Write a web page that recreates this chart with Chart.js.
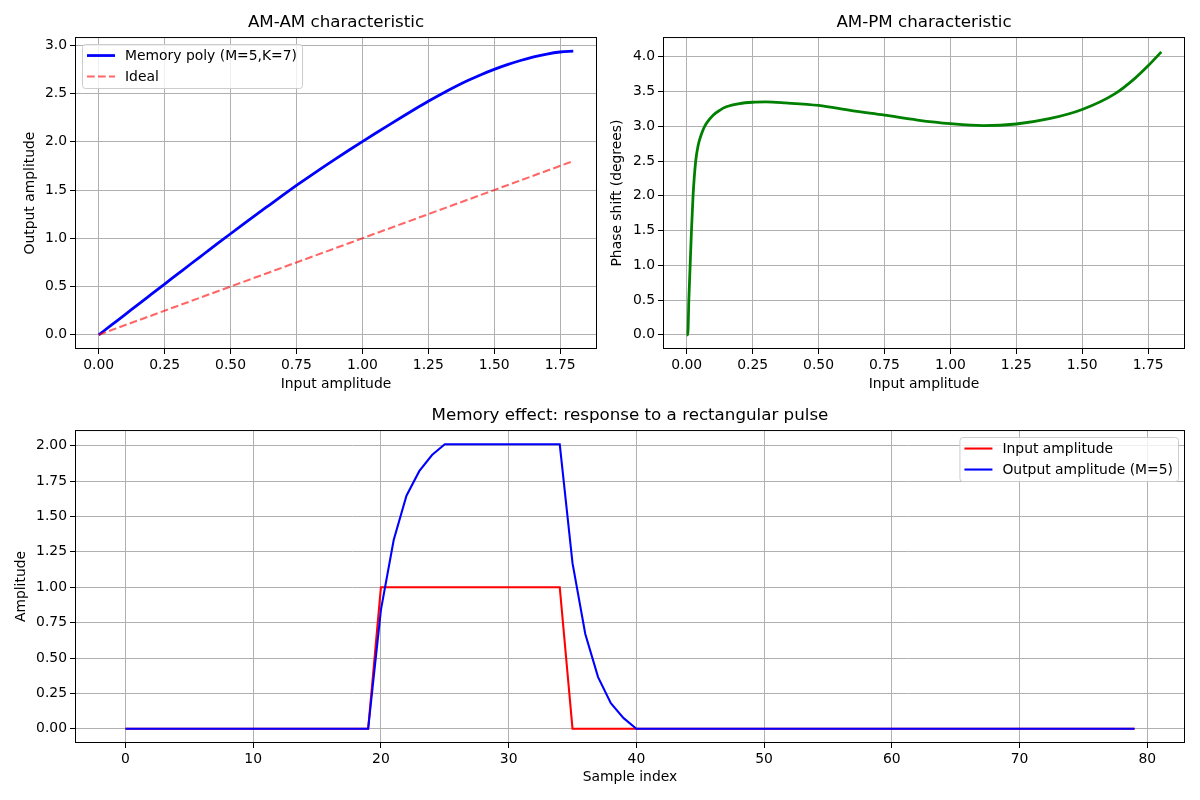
<!DOCTYPE html>
<html>
<head>
    <meta charset="utf-8">
    <title>memory polynomial PA</title>
    <style>
        body { margin: 0; background: #fff; font-family: "DejaVu Sans"; }
        #wrap { position: relative; width: 1200px; height: 800px; }
        canvas { position: absolute; }
    </style>
</head>
<body>
<div id="wrap">
    <canvas id="c_amam" width="600" height="400" style="left:0;top:0"></canvas>
    <canvas id="c_ampm" width="600" height="400" style="left:600px;top:0"></canvas>
    <canvas id="c_pulse" width="1200" height="400" style="left:0;top:400px"></canvas>
</div>

<script src="https://cdn.jsdelivr.net/npm/chart.js@4.4.1/dist/chart.umd.min.js"></script>
<script>
    // AM-AM: input amplitude vs output amplitude
    const am_in = [0, 0.05, 0.1, 0.15, 0.2, 0.25, 0.3, 0.35, 0.4, 0.45, 0.5, 0.55, 0.6, 0.65, 0.7, 0.75,
        0.8, 0.85, 0.9, 0.95, 1.0, 1.05, 1.1, 1.15, 1.2, 1.25, 1.3, 1.35, 1.4, 1.45, 1.5, 1.55, 1.6,
        1.65, 1.7, 1.75, 1.8];
    const am_out = [0, 0.105, 0.21, 0.316, 0.421, 0.526, 0.631, 0.736, 0.84, 0.944, 1.047, 1.149, 1.25,
        1.35, 1.45, 1.547, 1.642, 1.735, 1.826, 1.915, 2.002, 2.088, 2.173, 2.257, 2.339, 2.419, 2.495,
        2.567, 2.634, 2.695, 2.75, 2.799, 2.842, 2.879, 2.909, 2.93, 2.94];
    const ideal_in = [0, 1.8];
    const ideal_out = [0, 1.8];

    // AM-PM: input amplitude vs phase shift in degrees
    const pm_in = [0, 0.004, 0.008, 0.013, 0.018, 0.024, 0.034, 0.043, 0.057, 0.068, 0.08, 0.1, 0.125,
        0.15, 0.2, 0.25, 0.3, 0.375, 0.5, 0.625, 0.75, 0.875, 1.0, 1.125, 1.25, 1.375, 1.5, 1.625,
        1.7, 1.75, 1.8];
    const pm_out = [0, 0, 0.5, 1.0, 1.5, 2.0, 2.5, 2.72, 2.9, 3.0, 3.07, 3.16, 3.23, 3.28, 3.327, 3.346,
        3.35, 3.336, 3.30, 3.225, 3.16, 3.09, 3.038, 3.01, 3.033, 3.109, 3.242, 3.47, 3.69, 3.87, 4.07];

    // rectangular pulse test
    const sample_idx = [0, 1, 2, 3, 4, 5, 6, 7, 8, 9, 10, 11, 12, 13, 14, 15, 16, 17, 18, 19,
        20, 21, 22, 23, 24, 25, 26, 27, 28, 29, 30, 31, 32, 33, 34, 35, 36, 37, 38, 39,
        40, 41, 42, 43, 44, 45, 46, 47, 48, 49, 50, 51, 52, 53, 54, 55, 56, 57, 58, 59,
        60, 61, 62, 63, 64, 65, 66, 67, 68, 69, 70, 71, 72, 73, 74, 75, 76, 77, 78, 79];
    const pulse_in = [0, 0, 0, 0, 0, 0, 0, 0, 0, 0, 0, 0, 0, 0, 0, 0, 0, 0, 0, 0,
        1, 1, 1, 1, 1, 1, 1, 1, 1, 1, 1, 1, 1, 1, 1, 0, 0, 0, 0, 0,
        0, 0, 0, 0, 0, 0, 0, 0, 0, 0, 0, 0, 0, 0, 0, 0, 0, 0, 0, 0,
        0, 0, 0, 0, 0, 0, 0, 0, 0, 0, 0, 0, 0, 0, 0, 0, 0, 0, 0, 0];
    const pulse_out = [0, 0, 0, 0, 0, 0, 0, 0, 0, 0, 0, 0, 0, 0, 0, 0, 0, 0, 0, 0,
        0.84, 1.334, 1.647, 1.82, 1.934, 2.01, 2.01, 2.01, 2.01, 2.01, 2.01, 2.01, 2.01, 2.01, 2.01,
        1.17, 0.67, 0.365, 0.18, 0.075,
        0, 0, 0, 0, 0, 0, 0, 0, 0, 0, 0, 0, 0, 0, 0, 0, 0, 0, 0, 0,
        0, 0, 0, 0, 0, 0, 0, 0, 0, 0, 0, 0, 0, 0, 0, 0, 0, 0, 0, 0];

    // tick labels
    const amp_ticks = [0, 0.25, 0.5, 0.75, 1.0, 1.25, 1.5, 1.75];
    const amam_y_ticks = [0, 0.5, 1.0, 1.5, 2.0, 2.5, 3.0];
    const ampm_y_ticks = [0, 0.5, 1.0, 1.5, 2.0, 2.5, 3.0, 3.5, 4.0];
    const pulse_x_ticks = [0, 10, 20, 30, 40, 50, 60, 70, 80];
    const pulse_y_ticks = [0, 0.25, 0.5, 0.75, 1.0, 1.25, 1.5, 1.75, 2.0];

    const FONT = 'DejaVu Sans';
    Chart.defaults.font.family = FONT;
    Chart.defaults.font.size = 13.9;
    Chart.defaults.color = '#000';

    function pts(xs, ys) {
        return xs.map((x, i) => ({x: x, y: ys[i]}));
    }

    // black box round the plot area, like matplotlib spines
    const frame = {
        id: 'frame',
        afterDatasetsDraw(chart) {
            const {ctx, chartArea: a} = chart;
            ctx.save();
            ctx.strokeStyle = '#000';
            ctx.lineWidth = 1;
            ctx.strokeRect(a.left + 0.5, a.top + 0.5, a.right - a.left - 1, a.bottom - a.top - 1);
            ctx.restore();
        }
    };

    // legend drawn inside the plot with a rounded frame
    const boxLegend = {
        id: 'boxLegend',
        afterDraw(chart, args, opts) {
            const {ctx, chartArea: a} = chart;
            const sets = chart.data.datasets;
            ctx.save();
            ctx.font = '13.9px "' + FONT + '"';
            const textW = Math.max(...sets.map(d => ctx.measureText(d.label).width));
            const pad = 5, handle = 28, gap = 10, first = 11.5, row = 21;
            const w = pad * 2 + handle + gap + textW;
            const h = first * 2 + row * (sets.length - 1);
            const bx = opts.corner === 'right' ? a.right - 7 - w : a.left + 7;
            const by = a.top + 7;
            ctx.beginPath();
            ctx.roundRect(bx + 0.5, by + 0.5, w, h, 3);
            ctx.fillStyle = 'rgba(255,255,255,0.8)';
            ctx.fill();
            ctx.strokeStyle = '#cccccc';
            ctx.lineWidth = 1;
            ctx.stroke();
            sets.forEach((d, i) => {
                const y = by + first + i * row;
                ctx.beginPath();
                ctx.setLineDash(d.borderDash || []);
                ctx.strokeStyle = d.borderColor;
                ctx.lineWidth = d.borderWidth;
                ctx.moveTo(bx + pad, y);
                ctx.lineTo(bx + pad + handle, y);
                ctx.stroke();
                ctx.setLineDash([]);
                ctx.fillStyle = '#000';
                ctx.textBaseline = 'middle';
                ctx.textAlign = 'left';
                ctx.fillText(d.label, bx + pad + handle + gap, y + 1);
            });
            ctx.restore();
        }
    };

    function axis(min, max, ticks, fmt, title, titlePad, size, horizontal) {
        return {
            type: 'linear',
            min: min,
            max: max,
            afterBuildTicks: (s) => { s.ticks = ticks.map(v => ({value: v})); },
            afterFit: (s) => {
                if (horizontal) s.height = size; else s.width = size;
            },
            ticks: {
                callback: fmt,
                padding: 3,
                color: '#000',
                font: {size: 13.9},
                maxRotation: 0,
                autoSkip: false
            },
            grid: {
                color: '#b0b0b0',
                lineWidth: 1,
                tickColor: '#000',
                tickLength: 5,
                tickWidth: 1
            },
            border: {display: false},
            title: {
                display: true,
                text: title,
                color: '#000',
                font: {size: 13.9},
                padding: titlePad
            }
        };
    }

    function plotTitle(text, top) {
        return {
            display: true,
            text: text,
            color: '#000',
            fullSize: false,
            font: {size: 16.7, weight: 'normal'},
            padding: {top: top, bottom: 4}
        };
    }

    new Chart(document.getElementById('c_amam'), {
        type: 'line',
        data: {
            datasets: [
                {
                    label: 'Memory poly (M=5,K=7)',
                    data: pts(am_in, am_out),
                    borderColor: '#0000ff',
                    borderWidth: 2.78,
                    pointRadius: 0,
                    cubicInterpolationMode: 'monotone',
                    order: 1
                },
                {
                    label: 'Ideal',
                    data: pts(ideal_in, ideal_out),
                    borderColor: 'rgba(255,0,0,0.6)',
                    borderWidth: 2.08,
                    borderDash: [7.7, 3.3],
                    pointRadius: 0,
                    order: 0
                }
            ]
        },
        options: {
            responsive: false,
            animation: false,
            layout: {padding: {left: 0, right: 3, top: 0, bottom: 0}},
            scales: {
                x: axis(-0.09, 1.89, amp_ticks, v => v.toFixed(2), 'Input amplitude', {top: 0, bottom: 7.7}, 51, true),
                y: axis(-0.147, 3.085, amam_y_ticks, v => v.toFixed(1), 'Output amplitude', {top: 21.7, bottom: 0}, 75, false)
            },
            plugins: {
                legend: {display: false},
                tooltip: {enabled: false},
                title: plotTitle('AM-AM characteristic', 13),
                boxLegend: {corner: 'left'}
            }
        },
        plugins: [frame, boxLegend]
    });

    new Chart(document.getElementById('c_ampm'), {
        type: 'line',
        data: {
            datasets: [
                {
                    label: 'AM-PM',
                    data: pts(pm_in, pm_out),
                    borderColor: '#008000',
                    borderWidth: 2.78,
                    pointRadius: 0,
                    cubicInterpolationMode: 'monotone'
                }
            ]
        },
        options: {
            responsive: false,
            animation: false,
            layout: {padding: {left: 0, right: 15, top: 0, bottom: 0}},
            scales: {
                x: axis(-0.09, 1.89, amp_ticks, v => v.toFixed(2), 'Input amplitude', {top: 0, bottom: 7.7}, 51, true),
                y: axis(-0.204, 4.284, ampm_y_ticks, v => v.toFixed(1), 'Phase shift (degrees)', {top: 8.7, bottom: 0}, 63, false)
            },
            plugins: {
                legend: {display: false},
                tooltip: {enabled: false},
                title: plotTitle('AM-PM characteristic', 13)
            }
        },
        plugins: [frame]
    });

    new Chart(document.getElementById('c_pulse'), {
        type: 'line',
        data: {
            datasets: [
                {
                    label: 'Input amplitude',
                    data: pts(sample_idx, pulse_in),
                    borderColor: '#ff0000',
                    borderWidth: 2.08,
                    pointRadius: 0,
                    order: 1
                },
                {
                    label: 'Output amplitude (M=5)',
                    data: pts(sample_idx, pulse_out),
                    borderColor: '#0000ff',
                    borderWidth: 2.08,
                    pointRadius: 0,
                    order: 0
                }
            ]
        },
        options: {
            responsive: false,
            animation: false,
            layout: {padding: {left: 0, right: 15, top: 0, bottom: 0}},
            scales: {
                x: axis(-3.95, 82.95, pulse_x_ticks, v => String(v), 'Sample index', {top: 0, bottom: 14.7}, 57, true),
                y: axis(-0.1005, 2.1105, pulse_y_ticks, v => v.toFixed(2), 'Amplitude', {top: 12.7, bottom: 0}, 75, false)
            },
            plugins: {
                legend: {display: false},
                tooltip: {enabled: false},
                title: plotTitle('Memory effect: response to a rectangular pulse', 6),
                boxLegend: {corner: 'right'}
            }
        },
        plugins: [frame, boxLegend]
    });
</script>
</body>
</html>
